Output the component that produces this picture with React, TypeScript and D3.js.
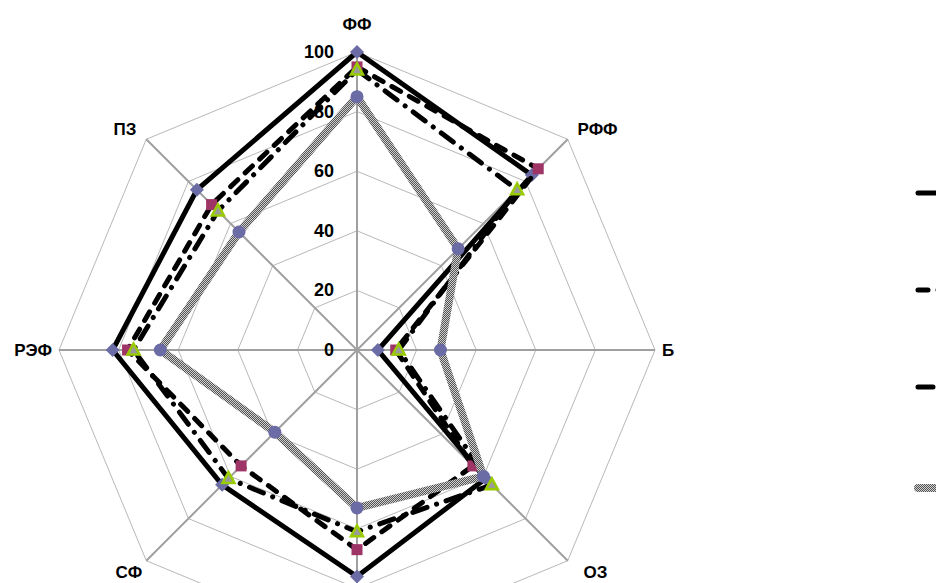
import React from "react";
import * as d3 from "d3";

const categories = ["ФФ", "РФФ", "Б", "ОЗ", "", "СФ", "РЭФ", "ПЗ"];
const tickValues = [0, 20, 40, 60, 80, 100];
const series1 = [100, 83, 7, 61, 76, 64, 82, 76];
const series2 = [95, 86, 13, 55, 67, 55, 77, 69];
const series3 = [94, 76, 14, 64, 61, 61, 75, 66];
const series4 = [85, 48, 28, 60, 53, 39, 66, 56];

const W = 936;
const H = 583;
const cx = 357;
const cy = 350;
const R = 298;

const r = d3.scaleLinear().domain([0, 100]).range([0, R]);
const n = categories.length;
const ang = (i: number) => (i * 2 * Math.PI) / n;
const px = (i: number, v: number) => cx + r(v) * Math.sin(ang(i));
const py = (i: number, v: number) => cy - r(v) * Math.cos(ang(i));

const radial = d3
  .lineRadial<number>()
  .angle((_, i) => ang(i))
  .radius((d) => r(d))
  .curve(d3.curveLinearClosed);

const ring = (v: number) => radial(categories.map(() => v)) || "";

type S = {
  data: number[];
  stroke: string;
  width: number;
  dash?: string;
  marker: "diamond" | "square" | "triangle" | "circle";
};

const seriesList: S[] = [
  { data: series1, stroke: "#000", width: 5, marker: "diamond" },
  { data: series2, stroke: "#000", width: 5, dash: "10,10", marker: "square" },
  { data: series3, stroke: "#000", width: 5, dash: "15,10,0.1,10", marker: "triangle" },
  { data: series4, stroke: "url(#chk)", width: 8, marker: "circle" },
];

const font = "'Liberation Sans', Arial, sans-serif";

function Marker({ kind, x, y }: { kind: S["marker"]; x: number; y: number }) {
  if (kind === "diamond") {
    const s = 7;
    return <path d={`M${x},${y - s}L${x + s},${y}L${x},${y + s}L${x - s},${y}Z`} fill="#6b6ba6" />;
  }
  if (kind === "square") {
    return <rect x={x - 5.5} y={y - 5.5} width={11} height={11} fill="#9e3566" />;
  }
  if (kind === "triangle") {
    return (
      <path
        d={`M${x},${y - 6.5}L${x + 6},${y + 4.5}L${x - 6},${y + 4.5}Z`}
        fill="#9a9a9a"
        stroke="#99cc00"
        strokeWidth={2.5}
        strokeLinejoin="miter"
      />
    );
  }
  return <circle cx={x} cy={y} r={6.5} fill="#6b6ba6" />;
}

export default function App() {
  const legendY = [193, 290, 387, 488];
  return (
    <div style={{ position: "fixed", left: 0, top: 0, width: W, height: H, background: "#fff" }}>
      <svg width={W} height={H} style={{ display: "block" }}>
        <defs>
          <pattern id="chk" width={2} height={2} patternUnits="userSpaceOnUse">
            <rect width={2} height={2} fill="#cfcfcf" />
            <rect width={1} height={1} fill="#555" />
            <rect x={1} y={1} width={1} height={1} fill="#555" />
          </pattern>
        </defs>
        <rect width={W} height={H} fill="#fff" />
        <g transform={`translate(${cx},${cy})`}>
          {tickValues.slice(1).map((t) => (
            <path key={t} d={ring(t)} fill="none" stroke="#b8b8b8" strokeWidth={1} />
          ))}
        </g>
        {categories.map((c, i) => (
          <line
            key={"ax" + i}
            x1={cx}
            y1={cy}
            x2={px(i, 100)}
            y2={py(i, 100)}
            stroke="#a0a0a0"
            strokeWidth={2}
          />
        ))}
        {seriesList.map((s, k) => (
          <g key={"s" + k}>
            <path
              transform={`translate(${cx},${cy})`}
              d={radial(s.data) || ""}
              fill="none"
              stroke={s.stroke}
              strokeWidth={s.width}
              strokeDasharray={s.dash}
              strokeLinecap={s.dash ? "round" : "butt"}
              strokeLinejoin={s.dash ? "round" : "miter"}
            />
            {s.data.map((v, i) => (
              <Marker key={i} kind={s.marker} x={px(i, v)} y={py(i, v)} />
            ))}
          </g>
        ))}
        {tickValues.map((t) => (
          <text
            key={"t" + t}
            x={cx - 23}
            y={cy - r(t)}
            textAnchor="end"
            dominantBaseline="central"
            fontFamily={font}
            fontWeight="bold"
            fontSize={18}
            fill="#000"
          >
            {t}
          </text>
        ))}
        {categories.map((c, i) => {
          const a = ang(i);
          const s = Math.sin(a);
          const co = Math.cos(a);
          const diag = Math.abs(s) > 0.1 && Math.abs(co) > 0.1;
          const off = diag ? 14 : Math.abs(co) > 0.9 ? 28 : 7;
          let x = cx + (R + off) * s;
          const y = cy - (R + off) * co + (diag && co < 0 ? 2 : 0);
          if (diag && co < 0) x += 6;
          const anchor = s > 0.1 ? "start" : s < -0.1 ? "end" : "middle";
          return (
            <text
              key={"c" + i}
              x={x}
              y={y}
              textAnchor={anchor}
              dominantBaseline="central"
              fontFamily={font}
              fontWeight="bold"
              fontSize={17}
              fill="#000"
            >
              {c}
            </text>
          );
        })}
        {seriesList.map((s, k) => (
          <line
            key={"lg" + k}
            x1={918}
            x2={970}
            y1={legendY[k]}
            y2={legendY[k]}
            stroke={s.stroke}
            strokeWidth={s.width}
            strokeDasharray={s.dash}
            strokeLinecap="round"
          />
        ))}
      </svg>
    </div>
  );
}
